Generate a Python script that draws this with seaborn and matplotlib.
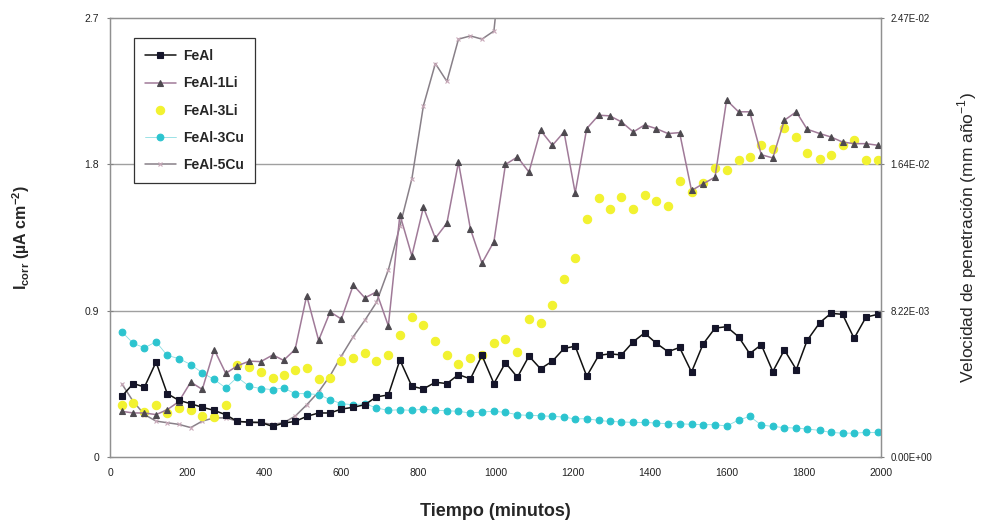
import numpy as np
import pandas as pd
import matplotlib
matplotlib.use("Agg")
import matplotlib.pyplot as plt
import seaborn as sns

sns.set_style("white")
plt.rcParams["font.family"] = ["Liberation Sans", "DejaVu Sans"]

# Sampling times (minutes)
tiempo = [30, 60, 89, 119, 148, 178, 209, 239, 270, 300,
          330, 361, 391, 422, 450, 480, 510, 541, 571, 600,
          631, 661, 691, 722, 752, 783, 813, 844, 874, 904,
          935, 965, 996, 1026, 1057, 1087, 1117, 1148, 1178, 1207,
          1237, 1268, 1297, 1327, 1358, 1387, 1417, 1448, 1478, 1509,
          1539, 1570, 1600, 1631, 1660, 1690, 1720, 1750, 1781, 1809,
          1842, 1871, 1901, 1931, 1962, 1993]

# Corrosion current density, uA cm^-2
feal = [0.372, 0.451, 0.430, 0.583, 0.389, 0.348, 0.327, 0.305, 0.286, 0.259,
        0.218, 0.214, 0.212, 0.187, 0.208, 0.218, 0.249, 0.270, 0.270, 0.294,
        0.305, 0.321, 0.369, 0.381, 0.596, 0.434, 0.418, 0.459, 0.451, 0.506,
        0.480, 0.624, 0.451, 0.579, 0.490, 0.620, 0.542, 0.589, 0.667, 0.681,
        0.496, 0.624, 0.634, 0.627, 0.709, 0.762, 0.700, 0.647, 0.673, 0.522,
        0.694, 0.792, 0.801, 0.739, 0.635, 0.690, 0.525, 0.658, 0.537, 0.716,
        0.826, 0.883, 0.877, 0.729, 0.860, 0.877]

feal_1li = [0.28, 0.27, 0.27, 0.26, 0.29, 0.34, 0.460, 0.415, 0.660, 0.514,
            0.56, 0.589, 0.586, 0.627, 0.594, 0.661, 0.992, 0.717, 0.892, 0.848,
            1.057, 0.978, 1.015, 0.806, 1.490, 1.237, 1.536, 1.345, 1.438, 1.812,
            1.402, 1.192, 1.324, 1.799, 1.845, 1.752, 2.009, 1.917, 1.999, 1.624,
            2.020, 2.102, 2.098, 2.061, 1.999, 2.042, 2.020, 1.989, 1.995, 1.639,
            1.68, 1.721, 2.195, 2.123, 2.123, 1.859, 1.839, 2.071, 2.123, 2.016,
            1.989, 1.968, 1.937, 1.927, 1.927, 1.917]

feal_3li = [0.321, 0.329, 0.277, 0.318, 0.270, 0.301, 0.288, 0.251, 0.247, 0.321,
            0.568, 0.55, 0.52, 0.486, 0.506, 0.537, 0.548, 0.476, 0.486, 0.589,
            0.609, 0.640, 0.589, 0.625, 0.750, 0.862, 0.809, 0.712, 0.624, 0.574,
            0.609, 0.624, 0.702, 0.723, 0.644, 0.846, 0.821, 0.933, 1.093, 1.224,
            1.464, 1.592, 1.526, 1.600, 1.526, 1.613, 1.577, 1.546, 1.700, 1.629,
            1.686, 1.777, 1.768, 1.824, 1.845, 1.917, 1.896, 2.024, 1.968, 1.871,
            1.834, 1.859, 1.917, 1.948, 1.824, 1.824]

feal_3cu = [0.770, 0.698, 0.671, 0.708, 0.624, 0.605, 0.568, 0.517, 0.476, 0.424,
            0.49, 0.434, 0.420, 0.414, 0.424, 0.389, 0.389, 0.383, 0.352, 0.327,
            0.321, 0.327, 0.301, 0.286, 0.290, 0.286, 0.294, 0.286, 0.284, 0.280,
            0.270, 0.276, 0.280, 0.274, 0.259, 0.255, 0.253, 0.249, 0.245, 0.233,
            0.235, 0.224, 0.218, 0.215, 0.212, 0.212, 0.208, 0.204, 0.204, 0.200,
            0.198, 0.198, 0.190, 0.226, 0.249, 0.196, 0.187, 0.180, 0.177, 0.171,
            0.163, 0.150, 0.146, 0.146, 0.150, 0.150]

feal_5cu = [0.45, 0.34, 0.26, 0.22, 0.21, 0.20, 0.18, 0.22, 0.24, 0.24,
            0.22, 0.21, 0.21, 0.20, 0.21, 0.25, 0.32, 0.40, 0.50, 0.62,
            0.74, 0.84, 0.95, 1.15, 1.42, 1.71, 2.16, 2.42, 2.31, 2.57,
            2.59, 2.57, 2.62, 3.30]

series_names = ["FeAl", "FeAl-1Li", "FeAl-3Li", "FeAl-3Cu", "FeAl-5Cu"]
x_ticks = [0, 200, 400, 600, 800, 1000, 1200, 1400, 1600, 1800, 2000]
y_ticks = [0, 0.9, 1.8, 2.7]
y_tick_labels = ["0", "0.9", "1.8", "2.7"]
right_tick_labels = ["0.00E+00", "8.22E-03", "1.64E-02", "2.47E-02"]

series_values = [feal, feal_1li, feal_3li, feal_3cu, feal_5cu]
frames = []
for name, vals in zip(series_names, series_values):
    frames.append(pd.DataFrame({"tiempo": tiempo[:len(vals)],
                                "icorr": vals, "aleacion": name}))
df = pd.concat(frames, ignore_index=True)

styles = {
    "FeAl": dict(color="#111111", lw=1.1, marker="s", ms=4.8,
                 mfc="#15152a", mec="#15152a"),
    "FeAl-1Li": dict(color="#a07a98", lw=1.1, marker="^", ms=4.5,
                     mfc="#4e4a50", mec="#4e4a50"),
    "FeAl-3Li": dict(color="#f7f740", lw=0.0, marker="o", ms=6.0,
                     mfc="#f2f230", mec="#f2f230"),
    "FeAl-3Cu": dict(color="#8adde2", lw=0.6, marker="o", ms=4.8,
                     mfc="#2cc4cf", mec="#2cc4cf"),
    "FeAl-5Cu": dict(color="#888088", lw=1.1, marker="x", ms=2.5,
                     mfc="#b0a0b0", mec="#c8a8b8"),
}

fig = plt.figure(figsize=(9.84, 5.30), dpi=100)
ax = fig.add_axes([0.112, 0.138, 0.783, 0.828])

# horizontal reference lines
for yv in (0.9, 1.8):
    ax.axhline(yv, color="#a0a0a0", lw=1.0, zorder=0)

draw_order = ["FeAl-5Cu", "FeAl-3Cu", "FeAl-3Li", "FeAl-1Li", "FeAl"]
handles = {}
for name in draw_order:
    st = styles[name]
    sub = df[df["aleacion"] == name]
    sns.lineplot(data=sub, x="tiempo", y="icorr", ax=ax, estimator=None,
                 sort=True, color=st["color"], linewidth=st["lw"],
                 marker=st["marker"], markersize=st["ms"],
                 markerfacecolor=st["mfc"], markeredgecolor=st["mec"],
                 markeredgewidth=0.8, label=name, legend=False)
    handles[name] = ax.lines[-1]

ax.set_xlim(0, 2000)
ax.set_ylim(0, 2.7)
ax.set_xticks(x_ticks)
ax.set_xticklabels([str(v) for v in x_ticks])
ax.set_yticks(y_ticks)
ax.set_yticklabels(y_tick_labels)
ax.tick_params(axis="both", direction="inout", length=4, width=0.8,
               color="#808080", labelsize=7.5, labelcolor="#222222", pad=6)
for side in ("left", "bottom", "top", "right"):
    ax.spines[side].set_color("#909090")
    ax.spines[side].set_linewidth(1.0)

ax.set_xlabel("Tiempo (minutos)", fontsize=13, fontweight="bold",
              labelpad=18)
ax.set_ylabel(r"I$_{\mathregular{corr}}$ (µA cm$^{\mathregular{-2}}$)",
              fontsize=11.5, fontweight="bold", labelpad=38)

ax2 = ax.twinx()
ax2.set_ylim(0, 2.7)
ax2.set_yticks(y_ticks)
ax2.set_yticklabels(right_tick_labels)
ax2.tick_params(axis="y", direction="inout", length=4, width=0.8,
                color="#808080", labelsize=7, labelcolor="#222222", pad=5)
for side in ("left", "bottom", "top", "right"):
    ax2.spines[side].set_color("#909090")
ax2.set_ylabel("Velocidad de penetración (mm año$^{\\mathregular{-1}}$)",
               fontsize=12.5, labelpad=17)

leg = ax.legend([handles[n] for n in series_names], series_names,
                loc="upper left", bbox_to_anchor=(0.022, 0.97),
                frameon=True, fancybox=False, framealpha=1.0,
                edgecolor="#333333", handlelength=2.2,
                handletextpad=0.5, labelspacing=0.95, borderpad=0.8,
                prop={"weight": "bold", "size": 10})
leg.get_frame().set_linewidth(0.9)

fig.savefig("out.png", dpi=100)
